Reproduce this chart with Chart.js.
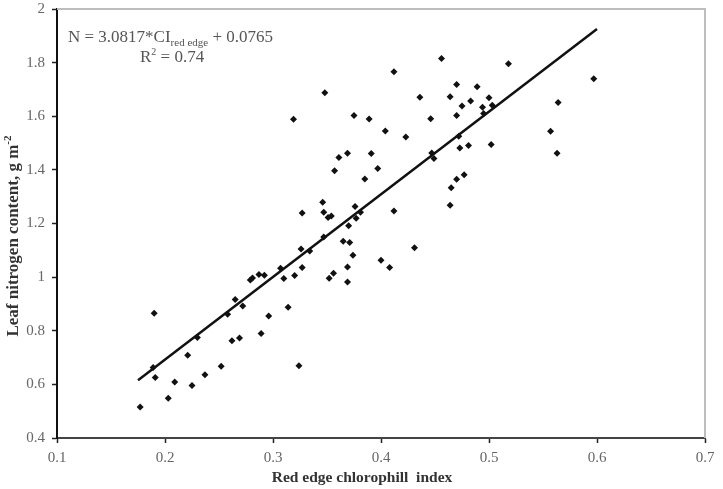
<!DOCTYPE html>
<html>
<head>
<meta charset="utf-8">
<script src="https://cdn.jsdelivr.net/npm/chart.js@4/dist/chart.umd.min.js"></script>
<style>
  body { margin: 0; background: #fff; }
</style>
</head>
<body>
<canvas id="myChart" width="723" height="489"></canvas>
<script>
// red edge chlorophyll index (x) vs leaf nitrogen content (y)
const ciValues = [
  0.177, 0.190, 0.189, 0.191, 0.203, 0.209, 0.225, 0.221, 0.230, 0.237,
  0.252, 0.258, 0.265, 0.272, 0.262, 0.269, 0.279, 0.281, 0.287, 0.292,
  0.289, 0.296, 0.307, 0.310, 0.314, 0.320, 0.324, 0.327, 0.326, 0.327,
  0.319, 0.334, 0.346, 0.347, 0.351, 0.354, 0.347, 0.352, 0.356, 0.365,
  0.371, 0.369, 0.369, 0.370, 0.348, 0.412, 0.456, 0.518, 0.375, 0.389,
  0.404, 0.423, 0.436, 0.446, 0.464, 0.470, 0.489, 0.483, 0.475, 0.470,
  0.500, 0.494, 0.503, 0.361, 0.369, 0.391, 0.357, 0.397, 0.385, 0.447,
  0.449, 0.473, 0.481, 0.502, 0.472, 0.477, 0.470, 0.465, 0.464, 0.376,
  0.381, 0.377, 0.412, 0.374, 0.400, 0.408, 0.431, 0.597, 0.564, 0.557,
  0.563, 0.495,
];
const nitrogen = [
  0.516, 0.865, 0.663, 0.626, 0.548, 0.609, 0.596, 0.709, 0.775, 0.636,
  0.668, 0.862, 0.917, 0.892, 0.763, 0.773, 0.989, 0.997, 1.010, 1.007,
  0.790, 0.855, 1.033, 0.995, 0.888, 1.006, 0.669, 1.036, 1.105, 1.239,
  1.589, 1.097, 1.279, 1.242, 1.222, 1.228, 1.150, 0.996, 1.014, 1.134,
  1.129, 0.982, 1.038, 1.192, 1.688, 1.766, 1.815, 1.796, 1.603, 1.590,
  1.545, 1.523, 1.671, 1.591, 1.673, 1.718, 1.710, 1.657, 1.638, 1.603,
  1.669, 1.634, 1.641, 1.446, 1.462, 1.461, 1.397, 1.405, 1.366, 1.463,
  1.442, 1.482, 1.491, 1.495, 1.525, 1.382, 1.365, 1.333, 1.268, 1.263,
  1.242, 1.220, 1.247, 1.082, 1.063, 1.036, 1.110, 1.740, 1.651, 1.544,
  1.462, 1.610,
];

// regression given on the figure
const slope = 3.0817;
const intercept = 0.0765;
const fitX = [0.175, 0.6];

const xTicks = [0.1, 0.2, 0.3, 0.4, 0.5, 0.6, 0.7];
const yTicks = [0.4, 0.6, 0.8, 1, 1.2, 1.4, 1.6, 1.8, 2];

const serif = '"Liberation Serif", "Times New Roman", serif';

const points = ciValues.map((x, i) => ({ x: x, y: nitrogen[i] }));
const fitLine = fitX.map(x => ({ x: x, y: slope * x + intercept }));

const fmt = v => String(Number(v.toFixed(1)));

// top/right frame, equation text and the two axis titles
const decor = {
  id: 'decor',
  afterDraw(chart) {
    const { ctx, chartArea: a } = chart;
    ctx.save();
    ctx.strokeStyle = '#bdbdbd';
    ctx.lineWidth = 2;
    ctx.beginPath();
    ctx.moveTo(a.left, a.top);
    ctx.lineTo(a.right, a.top);
    ctx.lineTo(a.right, a.bottom);
    ctx.stroke();

    // equation
    ctx.fillStyle = '#555';
    ctx.textBaseline = 'alphabetic';
    ctx.textAlign = 'left';
    let x = 68;
    ctx.font = '17px ' + serif;
    let t = 'N = 3.0817*CI';
    ctx.fillText(t, x, 42);
    x += ctx.measureText(t).width;
    ctx.font = '11px ' + serif;
    t = 'red edge';
    ctx.fillText(t, x, 46);
    x += ctx.measureText(t).width;
    ctx.font = '17px ' + serif;
    ctx.fillText(' + 0.0765', x, 42);

    x = 140;
    ctx.fillText('R', x, 62);
    x += ctx.measureText('R').width;
    ctx.font = '10px ' + serif;
    ctx.fillText('2', x, 55);
    x += ctx.measureText('2').width;
    ctx.font = '17px ' + serif;
    ctx.fillText(' = 0.74', x, 62);

    // x title
    ctx.fillStyle = '#333';
    ctx.font = 'bold 15.5px ' + serif;
    ctx.textAlign = 'center';
    ctx.fillText('Red edge chlorophill  index', 362, 482);

    // y title
    ctx.translate(18, 236);
    ctx.rotate(-Math.PI / 2);
    const main = 'Leaf nitrogen content, g m';
    ctx.font = 'bold 17px ' + serif;
    const w1 = ctx.measureText(main).width;
    ctx.font = 'bold 11px ' + serif;
    const w2 = ctx.measureText('-2').width;
    ctx.textAlign = 'left';
    ctx.font = 'bold 17px ' + serif;
    ctx.fillText(main, -(w1 + w2) / 2, 0);
    ctx.font = 'bold 11px ' + serif;
    ctx.fillText('-2', -(w1 + w2) / 2 + w1, -7);
    ctx.restore();
  },
};

const ctx = document.getElementById('myChart');
const myChart = new Chart(ctx, {
  type: 'scatter',
  data: {
    datasets: [{
      label: 'samples',
      data: points,
      pointStyle: 'rectRot',
      pointRadius: 3.5,
      backgroundColor: '#111',
      borderColor: '#111',
      borderWidth: 0,
    }, {
      label: 'fit',
      type: 'line',
      data: fitLine,
      borderColor: '#111',
      borderWidth: 2.5,
      pointRadius: 0,
      fill: false,
    }],
  },
  options: {
    responsive: false,
    animation: false,
    layout: {
      padding: { top: 0, right: 18, left: 0, bottom: 0 },
    },
    plugins: {
      legend: { display: false },
      tooltip: { enabled: false },
    },
    scales: {
      x: {
        type: 'linear',
        min: 0.1,
        max: 0.7,
        afterFit: s => { s.height = 51; },
        afterBuildTicks: s => { s.ticks = xTicks.map(v => ({ value: v })); },
        border: { color: '#444', width: 2 },
        grid: { drawOnChartArea: false, tickLength: 5, tickColor: '#222', tickWidth: 1.5 },
        ticks: {
          padding: 6,
          color: '#666',
          font: { family: serif, size: 15 },
          callback: fmt,
        },
      },
      y: {
        type: 'linear',
        min: 0.4,
        max: 2,
        afterFit: s => { s.width = 57; s.paddingTop = 9; s.paddingBottom = 0; },
        afterBuildTicks: s => { s.ticks = yTicks.map(v => ({ value: v })); },
        border: { color: '#111', width: 2 },
        grid: { drawOnChartArea: false, tickLength: 5, tickColor: '#222', tickWidth: 1.5 },
        ticks: {
          padding: 7,
          color: '#666',
          font: { family: serif, size: 15 },
          callback: fmt,
        },
      },
    },
  },
  plugins: [decor],
});
</script>
</body>
</html>
